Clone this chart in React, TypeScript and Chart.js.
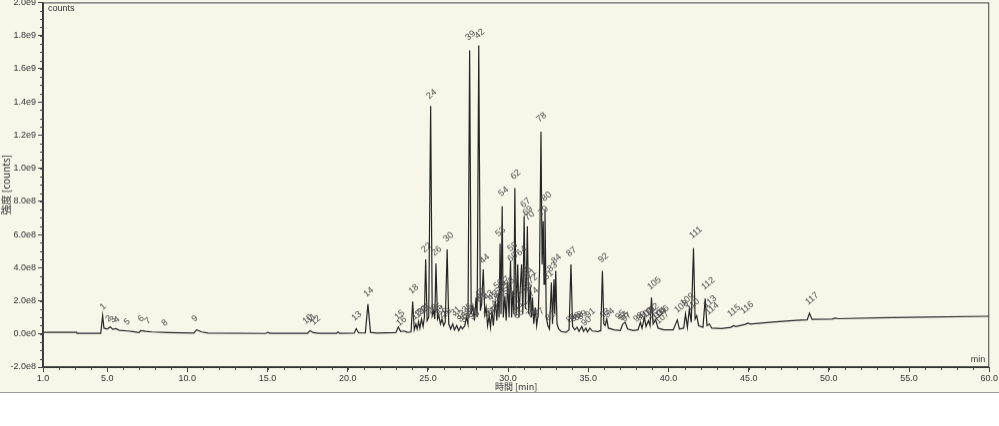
import React, { useEffect, useRef } from "react";
import { Chart, registerables } from "chart.js";

Chart.register(...registerables);

// Chromatogram trace: [retention time (min), intensity (x1e8 counts)]
const earlyTrace: number[][] = [
  [1.0, 0.1], [3.1, 0.1], [3.12, 0.04], [4.6, 0.04], [4.72, 1.1], [4.8, 0.35], [5.0, 0.3], [5.2, 0.42],
  [5.35, 0.28], [5.55, 0.32], [5.75, 0.22], [6.3, 0.18], [6.6, 0.14], [7.0, 0.08], [7.1, 0.2],
  [7.4, 0.16], [7.8, 0.12], [8.8, 0.08], [10.4, 0.05], [10.58, 0.25], [10.9, 0.12], [11.3, 0.05],
  [14.9, 0.03], [15.02, 0.1], [15.15, 0.04], [17.5, 0.04], [17.65, 0.2], [17.85, 0.08], [18.2, 0.04],
  [19.3, 0.04], [19.4, 0.12], [19.5, 0.04], [20.4, 0.05], [20.53, 0.32], [20.68, 0.06], [21.1, 0.06],
  [21.26, 1.8], [21.42, 0.1], [21.8, 0.05], [23.0, 0.08], [23.15, 0.42], [23.3, 0.15], [23.5, 0.18],
  [23.7, 0.1], [23.95, 0.12], [24.05, 1.95], [24.15, 0.25],
];

const clusterTrace: number[][] = [
  [24.25, 0.6], [24.33, 0.3], [24.42, 0.75], [24.5, 0.35], [24.6, 0.9], [24.7, 0.45], [24.78, 1.0],
  [24.86, 4.5], [24.95, 0.8], [25.05, 1.0], [25.17, 13.75], [25.27, 1.1], [25.36, 1.4], [25.43, 0.9],
  [25.5, 4.25], [25.6, 0.9], [25.68, 1.1], [25.78, 0.6], [25.88, 0.9], [25.98, 0.5], [26.08, 0.7],
  [26.2, 5.1], [26.3, 0.6], [26.42, 0.3], [26.55, 0.6], [26.65, 0.25], [26.8, 0.5], [26.92, 0.2],
  [27.05, 0.45], [27.15, 0.3], [27.3, 0.5], [27.4, 1.0], [27.5, 0.6], [27.6, 17.1], [27.7, 1.2],
  [27.8, 1.7], [27.9, 0.8], [28.0, 2.2], [28.07, 1.0], [28.17, 17.4], [28.27, 1.4], [28.35, 1.8],
  [28.45, 3.9], [28.55, 1.2], [28.63, 1.6], [28.72, 0.5], [28.82, 1.1], [28.9, 0.4], [29.0, 1.4],
  [29.08, 0.5], [29.2, 2.0], [29.3, 0.8], [29.38, 2.4], [29.44, 1.0], [29.5, 5.45], [29.56, 1.2],
  [29.63, 7.7], [29.7, 1.0], [29.8, 2.3], [29.88, 0.8], [29.98, 3.1], [30.06, 1.0], [30.15, 4.4],
  [30.22, 1.0], [30.3, 2.6], [30.36, 1.2], [30.42, 8.8], [30.5, 1.1], [30.6, 4.2], [30.68, 1.0],
  [30.76, 2.8], [30.84, 4.2], [30.92, 1.2], [31.0, 7.1], [31.08, 1.5], [31.14, 3.2], [31.2, 6.5],
  [31.28, 1.2], [31.38, 2.9], [31.45, 1.0], [31.52, 2.2], [31.6, 0.6], [31.7, 1.6], [31.78, 0.5],
  [31.88, 1.2], [31.96, 3.8], [32.05, 12.2], [32.12, 4.2], [32.19, 6.8], [32.24, 3.0], [32.3, 7.5],
  [32.38, 1.0], [32.48, 0.5], [32.58, 0.3], [32.7, 3.1], [32.77, 0.6], [32.86, 3.3], [32.91, 1.2],
  [32.97, 3.8], [33.05, 0.6], [33.15, 0.3], [33.3, 0.15], [33.6, 0.1], [33.8, 0.25], [33.92, 4.2],
  [34.02, 0.45], [34.15, 0.25], [34.3, 0.4], [34.42, 0.15], [34.6, 0.45], [34.7, 0.15], [34.85, 0.35],
  [34.95, 0.12],
];

const lateTrace: number[][] = [
  [35.1, 0.35], [35.25, 0.18], [35.6, 0.15], [35.78, 0.2], [35.88, 3.8], [35.97, 0.6], [36.05, 0.5],
  [36.15, 0.9], [36.25, 0.35], [36.6, 0.25], [37.0, 0.2], [37.15, 0.6], [37.3, 0.7], [37.45, 0.3],
  [37.8, 0.2], [38.1, 0.25], [38.25, 0.7], [38.35, 0.35], [38.5, 1.0], [38.6, 0.45], [38.75, 0.8],
  [38.85, 0.5], [38.94, 2.2], [39.04, 0.6], [39.2, 0.85], [39.35, 0.35], [39.7, 0.25], [40.3, 0.25],
  [40.55, 0.85], [40.68, 0.3], [40.95, 0.35], [41.06, 1.2], [41.18, 0.4], [41.3, 1.5], [41.42, 0.7],
  [41.56, 5.17], [41.66, 0.9], [41.76, 1.1], [41.88, 0.5], [42.15, 0.4], [42.29, 2.14], [42.4, 0.5],
  [42.55, 0.6], [42.7, 0.35], [43.3, 0.32], [43.9, 0.4], [44.05, 0.5], [44.2, 0.45], [44.8, 0.58],
  [44.95, 0.65], [45.1, 0.6], [46.5, 0.72], [48.0, 0.82], [48.65, 0.85], [48.79, 1.25], [48.95, 0.88],
  [50.2, 0.9], [50.4, 0.96], [50.6, 0.92], [53.0, 0.97], [56.0, 1.02], [60.0, 1.07],
];

// Peak number labels (peak n = index + 1): anchor time (min) and anchor height (x1e8)
const peakLabelTimes: number[] = [
  4.8, 5.17, 5.42, 5.67, 6.3, 7.17, 7.6, 8.66, 10.53, 17.45, 17.7, 17.95, 20.5, 21.25, 23.18, 23.3,
  24.24, 24.05, 24.43, 24.6, 24.8, 24.86, 25.24, 25.17, 25.55, 25.49, 25.74, 25.92, 26.1, 26.23,
  26.67, 26.98, 27.1, 27.3, 27.4, 27.6, 27.7, 27.85, 27.6, 28.17, 28.29, 28.17, 28.73, 28.48, 28.98,
  28.66, 28.9, 29.1, 29.2, 29.35, 29.41, 29.41, 29.47, 29.66, 29.66, 29.9, 29.72, 30.03, 30.22, 30.22,
  30.47, 30.41, 30.53, 30.78, 31.09, 30.6, 31.03, 31.16, 31.16, 31.28, 31.4, 31.47, 31.16, 31.53,
  31.4, 31.59, 31.9, 32.03, 32.15, 32.34, 32.46, 32.59, 32.71, 32.96, 33.9, 34.15, 33.9, 34.33, 34.58,
  34.83, 35.08, 35.89, 36.0, 36.27, 36.95, 37.14, 37.32, 38.07, 38.26, 38.45, 38.63, 38.8, 39.07,
  39.25, 38.94, 39.44, 39.44, 40.63, 41.0, 41.37, 41.56, 42.31, 42.43, 42.56, 43.93, 44.74, 48.79,
];
const peakLabelHeights: number[] = [
  1.33, 0.61, 0.55, 0.55, 0.42, 0.61, 0.48, 0.36, 0.61, 0.48, 0.55, 0.42, 0.67, 2.12, 0.73, 0.36,
  0.73, 2.3, 0.85, 1.03, 1.15, 4.8, 1.09, 14.06, 1.15, 4.6, 0.97, 0.85, 0.85, 5.45,
  0.97, 0.73, 0.6, 0.55, 1.15, 1.03, 0.85, 0.73, 17.6, 2.06, 1.76, 17.7, 1.94, 4.12, 1.88,
  0.85, 0.91, 1.09, 1.52, 2.6, 2.24, 1.94, 5.76, 8.18, 2.42, 2.24, 2.79, 2.73, 4.85, 4.24,
  2.06, 9.2, 1.27, 4.6, 3.39, 0.79, 7.5, 2.42, 7.03, 6.73, 3.2, 2.9, 1.27, 2.12,
  0.85, 0.85, 0.85, 12.67, 7.03, 7.88, 3.15, 0.67, 3.64, 4.12, 0.55, 0.61, 4.55, 0.67, 0.73,
  0.36, 0.85, 4.18, 0.85, 0.85, 0.73, 0.67, 0.6, 0.6, 0.67, 0.73, 0.85, 0.97, 0.6,
  0.73, 2.55, 0.85, 0.48, 1.15, 1.58, 1.27, 5.64, 2.55, 1.45, 1.03, 0.91, 1.09, 1.64,
];

const xMajorTicks: number[] = [1, 5, 10, 15, 20, 25, 30, 35, 40, 45, 50, 55, 60];

const FONT = "'Liberation Sans', Arial, sans-serif";
const INK = "#333333";
const BG = "#f8f6e9";

const decorPlugin = {
  id: "decor",
  beforeDraw(chart: any) {
    const { ctx, width, height } = chart;
    ctx.save();
    ctx.fillStyle = BG;
    ctx.fillRect(0, 0, width, height);
    ctx.restore();
  },
  afterDatasetsDraw(chart: any) {
    const { ctx, chartArea, scales } = chart;
    const xs = scales.x;
    const ys = scales.y;
    ctx.save();
    // frame
    ctx.strokeStyle = "#444";
    ctx.lineWidth = 1;
    ctx.strokeRect(chartArea.left + 0.5, chartArea.top + 0.5, chartArea.right - chartArea.left - 1, chartArea.bottom - chartArea.top - 1);
    // minor ticks
    ctx.strokeStyle = "#444";
    ctx.beginPath();
    for (let t = Math.ceil(xs.min); t <= xs.max; t += 1) {
      const px = Math.round(xs.getPixelForValue(t)) + 0.5;
      ctx.moveTo(px, chartArea.bottom);
      ctx.lineTo(px, chartArea.bottom + 3);
    }
    for (let v = ys.min; v <= ys.max + 1e-9; v += 0.5) {
      const py = Math.round(ys.getPixelForValue(v)) + 0.5;
      ctx.moveTo(chartArea.left, py);
      ctx.lineTo(chartArea.left - 3, py);
    }
    ctx.stroke();
    // peak labels
    ctx.fillStyle = "#4a4a4a";
    ctx.font = `9px ${FONT}`;
    ctx.textAlign = "left";
    ctx.textBaseline = "bottom";
    peakLabelTimes.forEach((t, i) => {
      const px = xs.getPixelForValue(t);
      const py = ys.getPixelForValue(peakLabelHeights[i]);
      ctx.save();
      ctx.translate(px, py);
      ctx.rotate(-0.7);
      ctx.fillText(String(i + 1), 0, 0);
      ctx.restore();
    });
    // corner texts
    ctx.fillStyle = INK;
    ctx.font = `9px ${FONT}`;
    ctx.textAlign = "left";
    ctx.textBaseline = "top";
    ctx.fillText("counts", chartArea.left + 5, chartArea.top + 2);
    ctx.textAlign = "right";
    ctx.textBaseline = "bottom";
    ctx.fillText("min", chartArea.right - 4, chartArea.bottom - 3);
    ctx.restore();
  },
};

export default function App() {
  const ref = useRef<HTMLCanvasElement | null>(null);
  useEffect(() => {
    if (!ref.current) return;
    const trace = [...earlyTrace, ...clusterTrace, ...lateTrace].map(([x, y]) => ({ x, y }));
    const chart = new Chart(ref.current, {
      type: "line",
      data: {
        datasets: [
          {
            data: trace,
            borderColor: "#262626",
            borderWidth: 1.2,
            pointRadius: 0,
            tension: 0,
            fill: false,
          },
        ],
      },
      options: {
        animation: false,
        responsive: false,
        maintainAspectRatio: false,
        devicePixelRatio: 1,
        layout: { autoPadding: false, padding: { top: 2, right: 9, bottom: 0, left: 0 } },
        plugins: { legend: { display: false }, tooltip: { enabled: false } },
        scales: {
          x: {
            type: "linear",
            min: 1,
            max: 60,
            afterBuildTicks: (scale: any) => {
              scale.ticks = xMajorTicks.map((v) => ({ value: v }));
            },
            afterFit: (scale: any) => {
              scale.height = 25;
            },
            ticks: {
              autoSkip: false,
              maxRotation: 0,
              padding: 1,
              color: INK,
              font: { family: FONT, size: 9 },
              callback: (v: any) => Number(v).toFixed(1),
            },
            grid: { drawOnChartArea: false, drawTicks: true, tickLength: 5, color: "#444" },
            border: { display: true, color: "#333", width: 1 },
            title: {
              display: true,
              text: "時間 [min]",
              color: INK,
              font: { family: "'Noto Sans CJK JP', " + FONT, size: 9 },
              padding: { top: 0, bottom: 0 },
            },
          },
          y: {
            type: "linear",
            min: -2,
            max: 20,
            afterBuildTicks: (scale: any) => {
              const t = [];
              for (let v = -2; v <= 20; v += 2) t.push({ value: v });
              scale.ticks = t;
            },
            afterFit: (scale: any) => {
              scale.width = 43;
            },
            ticks: {
              padding: 2,
              color: INK,
              font: { family: FONT, size: 9 },
              callback: (v: any) => (Number(v) === 0 ? "0.0e0" : (Number(v) * 1e8).toExponential(1).replace("e+", "e")),
            },
            grid: { drawOnChartArea: false, drawTicks: true, tickLength: 5, color: "#444" },
            border: { display: true, color: "#333", width: 1.5 },
            title: {
              display: true,
              text: "強度 [counts]",
              color: INK,
              font: { family: "'Noto Sans CJK JP', " + FONT, size: 10 },
              padding: { top: 0, bottom: 0 },
            },
          },
        },
      },
      plugins: [decorPlugin],
    });
    return () => chart.destroy();
  }, []);
  return (
    <div style={{ position: "absolute", left: 0, top: 0, width: 999, height: 426, background: "#ffffff", overflow: "hidden" }}>
      <canvas
        ref={ref}
        width={999}
        height={398}
        style={{ position: "absolute", left: 0, top: -5, display: "block", width: 999, height: 398, borderBottom: "1px solid #999" }}
      />
    </div>
  );
}
